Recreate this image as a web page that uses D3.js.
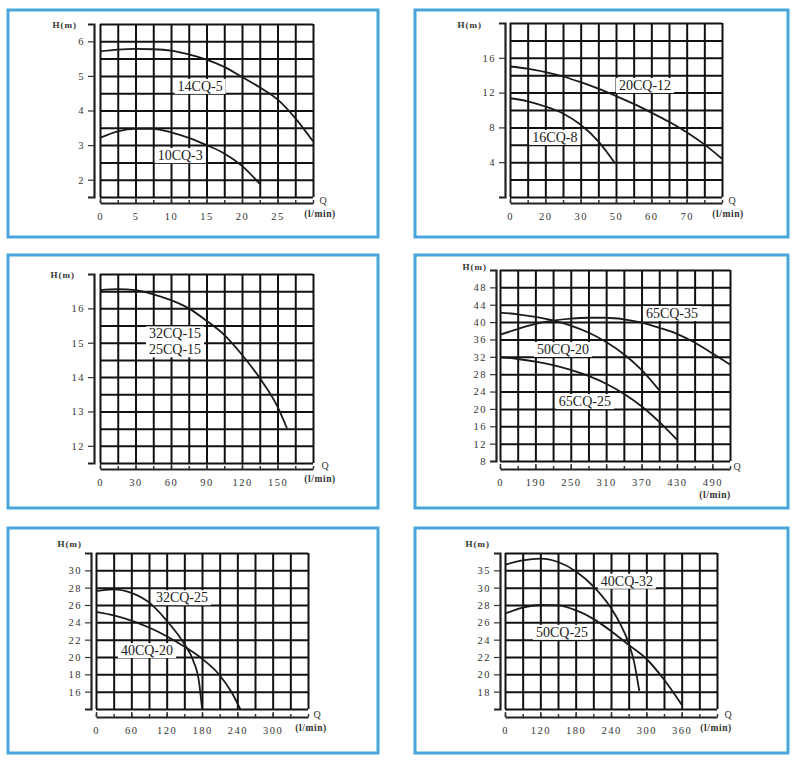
<!DOCTYPE html>
<html>
<head>
<meta charset="utf-8">
<script src="https://cdn.jsdelivr.net/npm/d3@7"></script>
<style>
    body { margin: 0; background: #fff; }
    svg text { font-family: "Liberation Serif", "DejaVu Serif", serif; }
</style>
</head>
<body>
<div id="chart"></div>
<script>
// ---- panel 1 : 14CQ-5 / 10CQ-3
const q14CQ5 = [0, 2.5, 5, 7.5, 10, 12.5, 15, 17.5, 20, 22.5, 25, 27.5, 30];
const h14CQ5 = [5.71, 5.76, 5.78, 5.77, 5.73, 5.62, 5.47, 5.26, 4.97, 4.67, 4.32, 3.78, 3.11];
const q10CQ3 = [0, 2.5, 5, 7.5, 10, 12.5, 15, 17.5, 20, 22.5];
const h10CQ3 = [3.21, 3.4, 3.47, 3.47, 3.37, 3.21, 3.0, 2.76, 2.4, 1.88];

// ---- panel 2 : 20CQ-12 / 16CQ-8
const q20CQ12 = [0, 7, 14, 21, 28, 35, 42, 49, 56, 63, 70, 77, 84];
const h20CQ12 = [15.0, 14.75, 14.35, 13.85, 13.2, 12.45, 11.6, 10.7, 9.7, 8.65, 7.45, 6.05, 4.4];
const q16CQ8 = [0, 7, 14, 21, 28, 35, 38.3, 41.3];
const h16CQ8 = [11.35, 11.0, 10.4, 9.6, 8.3, 6.4, 5.2, 4.0];

// ---- panel 3 : 32CQ-15 / 25CQ-15
const q32CQ15 = [0, 15, 30, 45, 60, 75, 90, 105, 120, 135, 150, 158];
const h32CQ15 = [16.53, 16.56, 16.53, 16.41, 16.24, 16.0, 15.64, 15.23, 14.65, 13.97, 13.14, 12.51];

// ---- panel 4 : 65CQ-35 / 50CQ-20 / 65CQ-25
const q65CQ35 = [130, 160, 190, 220, 250, 280, 310, 340, 370, 400, 430, 460, 490, 520];
const h65CQ35 = [37.1, 38.4, 39.6, 40.35, 40.8, 41.0, 41.0, 40.65, 39.9, 38.7, 37.3, 35.3, 32.8, 30.2];
const q50CQ20 = [130, 160, 190, 220, 250, 280, 310, 340, 370, 400];
const h50CQ20 = [42.2, 41.8, 41.2, 40.4, 39.2, 37.6, 35.4, 32.6, 29.0, 24.3];
const q65CQ25 = [130, 160, 190, 220, 250, 280, 310, 340, 370, 400, 430];
const h65CQ25 = [31.9, 31.5, 30.9, 30.1, 29.0, 27.6, 25.8, 23.5, 20.6, 17.0, 12.9];

// ---- panel 5 : 32CQ-25 / 40CQ-20
const q32CQ25 = [0, 30, 60, 90, 120, 150, 165, 175, 180];
const h32CQ25 = [27.6, 27.8, 27.4, 26.3, 24.2, 21.5, 19.6, 17.1, 14.1];
const q40CQ20 = [0, 30, 60, 90, 120, 150, 180, 210, 230, 245];
const h40CQ20 = [25.2, 24.8, 24.2, 23.4, 22.4, 21.2, 19.8, 17.9, 15.96, 14.0];

// ---- panel 6 : 40CQ-32 / 50CQ-25
const q40CQ32 = [60, 90, 120, 150, 180, 210, 240, 255, 270, 279, 288];
const h40CQ32 = [32.65, 33.15, 33.35, 32.96, 31.9, 30.15, 27.65, 25.9, 23.6, 21.5, 18.1];
const q50CQ25 = [60, 90, 120, 150, 180, 210, 240, 270, 300, 330, 360];
const h50CQ25 = [27.0, 27.7, 28.0, 27.96, 27.4, 26.4, 25.0, 23.4, 21.8, 19.4, 16.5];

// tick labels
const xTicks1 = [0, 5, 10, 15, 20, 25],        xLabels1 = ['0', '5', '10', '15', '20', '25'];
const yTicks1 = [2, 3, 4, 5, 6],               yLabels1 = ['2', '3', '4', '5', '6'];
const xTicks2 = [0, 14, 28, 42, 56, 70],       xLabels2 = ['0', '20', '30', '50', '60', '70'];
const yTicks2 = [4, 8, 12, 16],                yLabels2 = ['4', '8', '12', '16'];
const xTicks3 = [0, 30, 60, 90, 120, 150],     xLabels3 = ['0', '30', '60', '90', '120', '150'];
const yTicks3 = [12, 13, 14, 15, 16],          yLabels3 = ['12', '13', '14', '15', '16'];
const xTicks4 = [130, 190, 250, 310, 370, 430, 490], xLabels4 = ['0', '190', '250', '310', '370', '430', '490'];
const yTicks4 = [8, 12, 16, 20, 24, 28, 32, 36, 40, 44, 48];
const yLabels4 = ['8', '12', '16', '20', '24', '28', '32', '36', '40', '44', '48'];
const xTicks5 = [0, 60, 120, 180, 240, 300],   xLabels5 = ['0', '60', '120', '180', '240', '300'];
const yTicks5 = [16, 18, 20, 22, 24, 26, 28, 30], yLabels5 = ['16', '18', '20', '22', '24', '26', '28', '30'];
const xTicks6 = [60, 120, 180, 240, 300, 360], xLabels6 = ['0', '120', '180', '240', '300', '360'];
const yTicks6 = [18, 20, 22, 24, 26, 28, 30, 32], yLabels6 = ['18', '20', '22', '24', '26', '28', '30', '35'];

const zip = (q, h) => q.map((v, i) => [v, h[i]]);

// layout of the six panels (pixels)
const panels = [
    { box: [8, 10, 378, 237], gx: [100, 313], gy: [24, 197], cols: 12, rows: 10,
      xDom: [0, 30], yDom: [1.5, 6.5], xTicks: xTicks1, xLabels: xLabels1, yTicks: yTicks1, yLabels: yLabels1,
      yAxisX: 94, xAxisY: 203, hm: [77, 28], q: [323, 204], unit: [320, 217],
      curves: [zip(q14CQ5, h14CQ5), zip(q10CQ3, h10CQ3)],
      labels: [{ lines: ['14CQ-5'], at: [14.1, 4.71] }, { lines: ['10CQ-3'], at: [11.3, 2.71] }] },
    { box: [415, 10, 788, 237], gx: [510, 722], gy: [23, 197], cols: 12, rows: 10,
      xDom: [0, 84], yDom: [0, 20], xTicks: xTicks2, xLabels: xLabels2, yTicks: yTicks2, yLabels: yLabels2,
      yAxisX: 505, xAxisY: 203, hm: [482, 28], q: [732, 204], unit: [728, 217],
      curves: [zip(q20CQ12, h20CQ12), zip(q16CQ8, h16CQ8)],
      labels: [{ lines: ['20CQ-12'], at: [53.5, 12.87] }, { lines: ['16CQ-8'], at: [17.8, 6.9] }] },
    { box: [8, 255, 378, 508], gx: [100, 313], gy: [274, 463], cols: 12, rows: 11,
      xDom: [0, 180], yDom: [11.5, 17], xTicks: xTicks3, xLabels: xLabels3, yTicks: yTicks3, yLabels: yLabels3,
      yAxisX: 94, xAxisY: 469, hm: [75, 278], q: [325, 469], unit: [320, 482],
      curves: [zip(q32CQ15, h32CQ15)],
      labels: [{ lines: ['32CQ-15', '25CQ-15'], at: [63.4, 15.04] }] },
    { box: [415, 255, 788, 508], gx: [500, 730], gy: [270, 461], cols: 13, rows: 11,
      xDom: [130, 520], yDom: [8, 52], xTicks: xTicks4, xLabels: xLabels4, yTicks: yTicks4, yLabels: yLabels4,
      yAxisX: 496, xAxisY: 469, hm: [487, 270], q: [737, 470], unit: [715, 498],
      curves: [zip(q65CQ35, h65CQ35), zip(q50CQ20, h50CQ20), zip(q65CQ25, h65CQ25)],
      labels: [{ lines: ['65CQ-35'], at: [421.6, 42.1] }, { lines: ['50CQ-20'], at: [236.8, 33.8] },
               { lines: ['65CQ-25'], at: [274, 21.8] }] },
    { box: [8, 528, 378, 753], gx: [96, 308], gy: [553, 709], cols: 12, rows: 9,
      xDom: [0, 360], yDom: [14, 32], xTicks: xTicks5, xLabels: xLabels5, yTicks: yTicks5, yLabels: yLabels5,
      yAxisX: 91, xAxisY: 717, hm: [82, 547], q: [317, 718], unit: [311, 731],
      curves: [zip(q32CQ25, h32CQ25), zip(q40CQ20, h40CQ20)],
      labels: [{ lines: ['32CQ-25'], at: [146, 26.9] }, { lines: ['40CQ-20'], at: [86.6, 20.8] }] },
    { box: [415, 528, 788, 753], gx: [505, 717], gy: [553, 709], cols: 12, rows: 9,
      xDom: [60, 420], yDom: [16, 34], xTicks: xTicks6, xLabels: xLabels6, yTicks: yTicks6, yLabels: yLabels6,
      yAxisX: 500, xAxisY: 717, hm: [490, 547], q: [728, 718], unit: [716, 731],
      curves: [zip(q40CQ32, h40CQ32), zip(q50CQ25, h50CQ25)],
      labels: [{ lines: ['40CQ-32'], at: [267, 30.8] }, { lines: ['50CQ-25'], at: [156.8, 24.9] }] }
];

const svg = d3.select('#chart')
    .append('svg')
    .attr('width', 794)
    .attr('height', 760);

function drawPanel(p) {
    svg.append('rect')
        .attr('x', p.box[0]).attr('y', p.box[1])
        .attr('width', p.box[2] - p.box[0]).attr('height', p.box[3] - p.box[1])
        .attr('fill', '#fff')
        .attr('stroke', '#48a6dc')
        .attr('stroke-width', 3);

    const x = d3.scaleLinear().domain(p.xDom).range(p.gx);
    const y = d3.scaleLinear().domain(p.yDom).range([p.gy[1], p.gy[0]]);
    const g = svg.append('g');

    const colStep = (p.xDom[1] - p.xDom[0]) / p.cols;
    const rowStep = (p.yDom[1] - p.yDom[0]) / p.rows;
    const gridQ = d3.range(p.cols + 1).map(i => p.xDom[0] + i * colStep);
    const gridH = d3.range(p.rows + 1).map(i => p.yDom[0] + i * rowStep);

    // grid
    g.append('g')
        .attr('transform', `translate(0,${p.gy[1]})`)
        .call(d3.axisBottom(x).tickValues(gridQ).tickSize(-(p.gy[1] - p.gy[0])).tickFormat(''))
        .call(s => s.select('.domain').remove())
        .selectAll('line').attr('stroke', '#111').attr('stroke-width', 2);
    g.append('g')
        .attr('transform', `translate(${p.gx[0]},0)`)
        .call(d3.axisLeft(y).tickValues(gridH).tickSize(-(p.gx[1] - p.gx[0])).tickFormat(''))
        .call(s => s.select('.domain').remove())
        .selectAll('line').attr('stroke', '#111').attr('stroke-width', 2);

    // y axis, set off to the left of the grid
    const yAxisG = g.append('g')
        .attr('transform', `translate(${p.yAxisX},0)`)
        .call(d3.axisLeft(y).tickValues(p.yTicks).tickFormat((d, i) => p.yLabels[i])
            .tickSize(6).tickSizeOuter(6).tickPadding(3));
    yAxisG.select('.domain').attr('stroke', '#222').attr('stroke-width', 2.2);
    yAxisG.selectAll('.tick line').attr('stroke', '#333').attr('stroke-width', 1.2);
    yAxisG.selectAll('.tick text')
        .attr('fill', '#333').style('font-size', '10.5px').style('letter-spacing', '1.5px');

    // x axis below the grid, ticks pointing up
    const xMinor = g.append('g')
        .attr('transform', `translate(0,${p.xAxisY})`)
        .call(d3.axisBottom(x).tickValues(gridQ).tickFormat('').tickSize(-3).tickSizeOuter(0));
    xMinor.select('.domain').attr('stroke', '#222').attr('stroke-width', 2.2);
    xMinor.selectAll('.tick line').attr('stroke', '#333').attr('stroke-width', 1.5);

    const xAxisG = g.append('g')
        .attr('transform', `translate(0,${p.xAxisY})`)
        .call(d3.axisBottom(x).tickValues(p.xTicks).tickFormat((d, i) => p.xLabels[i])
            .tickSize(-5).tickSizeOuter(0).tickPadding(10));
    xAxisG.select('.domain').remove();
    xAxisG.selectAll('.tick line').attr('stroke', '#333').attr('stroke-width', 1.5);
    xAxisG.selectAll('.tick text')
        .attr('fill', '#333').style('font-size', '10.5px').style('letter-spacing', '1.5px');

    // axis captions
    g.append('text')
        .attr('x', p.hm[0]).attr('y', p.hm[1])
        .attr('text-anchor', 'end')
        .style('font-size', '9px').style('font-weight', 'bold').style('letter-spacing', '1px')
        .attr('fill', '#333')
        .text('H(m)');
    g.append('text')
        .attr('x', p.q[0]).attr('y', p.q[1])
        .attr('text-anchor', 'middle')
        .style('font-size', '10px').attr('fill', '#333')
        .text('Q');
    g.append('text')
        .attr('x', p.unit[0]).attr('y', p.unit[1])
        .attr('text-anchor', 'middle')
        .style('font-size', '9.5px').style('font-weight', 'bold').style('letter-spacing', '0.6px')
        .attr('fill', '#333')
        .text('(l/min)');

    // curves
    const line = d3.line()
        .x(d => x(d[0]))
        .y(d => y(d[1]))
        .curve(d3.curveMonotoneX);
    g.selectAll('.curve')
        .data(p.curves)
        .join('path')
        .attr('class', 'curve')
        .attr('d', line)
        .attr('fill', 'none')
        .attr('stroke', '#1a1a1a')
        .attr('stroke-width', 1.8);

    // curve names on white boxes
    p.labels.forEach(l => {
        const lg = g.append('g');
        const cx = x(l.at[0]), cy = y(l.at[1]);
        const lh = 16;
        const t = lg.append('text')
            .attr('text-anchor', 'middle')
            .style('font-size', '14px').attr('fill', '#222');
        l.lines.forEach((s, i) => {
            t.append('tspan')
                .attr('x', cx)
                .attr('y', cy + 5 + (i - (l.lines.length - 1) / 2) * lh)
                .text(s);
        });
        const bb = t.node().getBBox();
        lg.insert('rect', 'text')
            .attr('x', bb.x - 3).attr('y', bb.y)
            .attr('width', bb.width + 6).attr('height', bb.height)
            .attr('fill', '#fff');
    });
}

panels.forEach(drawPanel);
</script>
</body>
</html>
